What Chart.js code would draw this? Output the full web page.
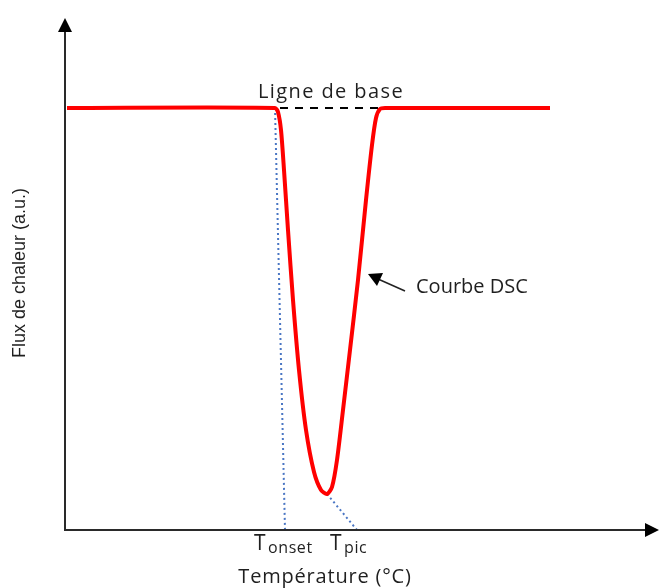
<!DOCTYPE html>
<html>
<head>
<meta charset="utf-8">
<script src="https://cdn.jsdelivr.net/npm/chart.js@4/dist/chart.umd.min.js"></script>
<style>
  html, body { margin: 0; padding: 0; background: #fff; }
  #wrap { width: 659px; height: 588px; }
</style>
</head>
<body>
<div id="wrap"><canvas id="dscChart" width="659" height="588"></canvas></div>
<script>
// ==================== DATA ====================
// courbe DSC (unités arbitraires)
const tempDSC = [2, 210, 213, 216, 219, 223, 228, 234, 241, 249, 256, 262, 267, 272, 278, 285, 293, 301, 307, 311, 315, 320, 485];
const fluxDSC = [422, 422, 418, 400, 360, 300, 230, 160, 100, 58, 40, 36, 43, 70, 120, 180, 250, 330, 385, 412, 421, 422, 422];

// ligne de base (pointillés noirs)
const baseX = [215, 313];
const baseY = [422, 422];

// tangentes (pointillés bleus)
const onsetX = [210, 220];
const onsetY = [422, 0];
const picX = [262, 292];
const picY = [36, 0];

const xLabel = 'Température (°C)';
const yLabel = 'Flux de chaleur (a.u.)';

const toPts = (xs, ys) => xs.map((x, i) => ({ x: x, y: ys[i] }));

// ==================== DECORATIONS ====================
const decor = {
  id: 'decor',
  afterDatasetsDraw(chart) {
    const { ctx, chartArea: a, scales: { x } } = chart;
    const ink = '#1f1f1f';
    ctx.save();

    // axes
    ctx.strokeStyle = '#2a2a2a';
    ctx.lineWidth = 2;
    ctx.beginPath();
    ctx.moveTo(a.left, a.top + 8);
    ctx.lineTo(a.left, a.bottom);
    ctx.lineTo(a.right - 8, a.bottom);
    ctx.stroke();
    ctx.fillStyle = '#000';
    ctx.beginPath();
    ctx.moveTo(a.left, a.top);
    ctx.lineTo(a.left - 7, a.top + 14);
    ctx.lineTo(a.left + 7, a.top + 14);
    ctx.closePath();
    ctx.fill();
    ctx.beginPath();
    ctx.moveTo(a.right, a.bottom);
    ctx.lineTo(a.right - 14, a.bottom - 7);
    ctx.lineTo(a.right - 14, a.bottom + 7);
    ctx.closePath();
    ctx.fill();

    // titres des axes
    ctx.fillStyle = ink;
    ctx.textAlign = 'center';
    ctx.textBaseline = 'middle';
    ctx.font = '20px "Open Sans", sans-serif';
    ctx.letterSpacing = '0.8px';
    ctx.fillText(xLabel, 325, 577);
    ctx.letterSpacing = '0px';
    ctx.save();
    ctx.translate(20, 273);
    ctx.rotate(-Math.PI / 2);
    ctx.font = '18px "Liberation Sans", sans-serif';
    ctx.fillText(yLabel, 0, 0);
    ctx.restore();

    // Ligne de base
    ctx.font = '20px "Open Sans", sans-serif';
    ctx.letterSpacing = '1.4px';
    ctx.fillText('Ligne de base', x.getPixelForValue(266), 92);
    ctx.letterSpacing = '0px';

    // Courbe DSC + flèche
    ctx.textAlign = 'left';
    ctx.font = '20px "Open Sans", sans-serif';
    ctx.fillText('Courbe DSC', 416, 287);
    ctx.strokeStyle = '#222';
    ctx.lineWidth = 1.6;
    ctx.beginPath();
    ctx.moveTo(405, 291);
    ctx.lineTo(378, 279);
    ctx.stroke();
    ctx.fillStyle = '#000';
    ctx.beginPath();
    ctx.moveTo(368, 274);
    ctx.lineTo(383, 273);
    ctx.lineTo(377, 286);
    ctx.closePath();
    ctx.fill();

    // T onset / T pic
    ctx.fillStyle = ink;
    ctx.textBaseline = 'alphabetic';
    ctx.font = '21px "Open Sans", sans-serif';
    ctx.fillText('T', 254, 550);
    ctx.fillText('T', 330, 550);
    ctx.font = '16px "Open Sans", sans-serif';
    ctx.letterSpacing = '0.6px';
    ctx.fillText('onset', 268, 553);
    ctx.fillText('pic', 344, 553);
    ctx.letterSpacing = '0px';

    ctx.restore();
  }
};

// ==================== CHART ====================
new Chart(document.getElementById('dscChart'), {
  type: 'scatter',
  data: {
    datasets: [
      {
        label: 'Courbe DSC',
        data: toPts(tempDSC, fluxDSC),
        showLine: true,
        borderColor: '#ff0000',
        borderWidth: 4,
        pointRadius: 0,
        tension: 0.25,
        order: 1
      },
      {
        label: 'Ligne de base',
        data: toPts(baseX, baseY),
        showLine: true,
        borderColor: '#000',
        borderWidth: 2,
        borderDash: [8, 7],
        pointRadius: 0,
        order: 2
      },
      {
        label: 'Onset',
        data: toPts(onsetX, onsetY),
        showLine: true,
        borderColor: '#4a76c4',
        borderWidth: 2,
        borderDash: [2, 3],
        pointRadius: 0,
        order: 3
      },
      {
        label: 'Pic',
        data: toPts(picX, picY),
        showLine: true,
        borderColor: '#4a76c4',
        borderWidth: 2,
        borderDash: [2, 3],
        pointRadius: 0,
        order: 3
      }
    ]
  },
  options: {
    responsive: false,
    animation: false,
    layout: { padding: { left: 65, top: 18, right: 0, bottom: 58 } },
    plugins: {
      legend: { display: false },
      tooltip: { enabled: false }
    },
    scales: {
      x: { type: 'linear', min: 0, max: 594, display: false },
      y: { type: 'linear', min: 0, max: 512, display: false }
    }
  },
  plugins: [decor]
});
</script>
</body>
</html>
